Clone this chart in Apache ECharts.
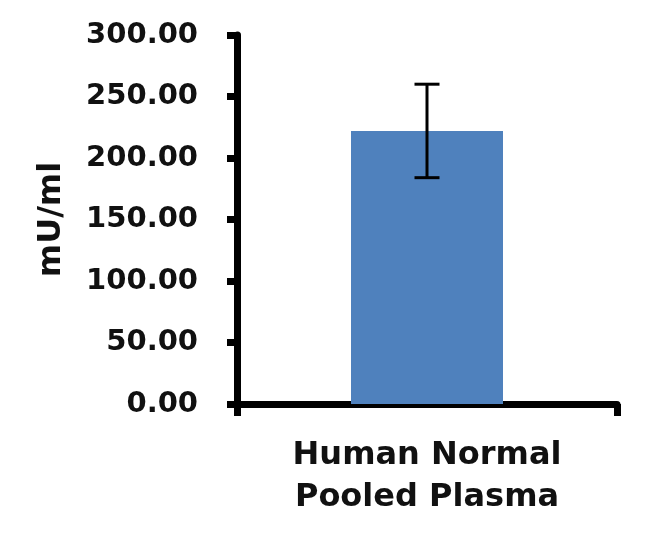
<!DOCTYPE html>
<html><head><meta charset="utf-8">
<script src="https://cdn.jsdelivr.net/npm/echarts@6/dist/echarts.min.js"></script>
<style>html,body{margin:0;padding:0;background:#fff}#c{width:650px;height:537px}</style>
</head><body><div id="c"></div>
<script>
const categories = ['Human Normal\nPooled Plasma'];
const means = [222];
const errors = [38];
const yTicks = [0, 50, 100, 150, 200, 250, 300];

const FONT = 'DejaVu Sans';
const chart = echarts.init(document.getElementById('c'), null, {renderer: 'canvas'});
chart.setOption({
  animation: false,
  grid: {left: 237, right: 33, top: 35, bottom: 133},
  xAxis: {
    type: 'category', data: categories,
    axisLine: {lineStyle: {color: '#000', width: 7}},
    axisTick: {show: true, length: 12, lineStyle: {color: '#000', width: 7}},
    axisLabel: {color: '#111', fontFamily: FONT, fontWeight: 'bold', fontSize: 32, lineHeight: 42, margin: 31}
  },
  yAxis: {
    type: 'value', min: yTicks[0], max: yTicks[yTicks.length - 1], interval: 50,
    name: 'mU/ml', nameLocation: 'middle', nameGap: 169, nameRotate: 90,
    nameTextStyle: {color: '#111', fontFamily: FONT, fontWeight: 'bold', fontSize: 32},
    axisLine: {show: true, lineStyle: {color: '#000', width: 7}},
    axisTick: {show: true, length: 10, lineStyle: {color: '#000', width: 7}},
    splitLine: {show: false},
    axisLabel: {color: '#111', fontFamily: FONT, fontWeight: 'bold', fontSize: 29, margin: 39,
      formatter: v => v.toFixed(2)}
  },
  series: [
    {type: 'bar', data: means, barWidth: '40%', itemStyle: {color: '#4F81BD'}},
    {type: 'custom', data: means.map((m, i) => [i, m - errors[i], m + errors[i]]),
      renderItem: (params, api) => {
        const lo = api.coord([api.value(0), api.value(1)]);
        const hi = api.coord([api.value(0), api.value(2)]);
        const hw = 12.5;
        const st = {stroke: '#000', lineWidth: 3};
        return {type: 'group', children: [
          {type: 'line', shape: {x1: hi[0], y1: hi[1], x2: lo[0], y2: lo[1]}, style: st},
          {type: 'line', shape: {x1: hi[0]-hw, y1: hi[1], x2: hi[0]+hw, y2: hi[1]}, style: st},
          {type: 'line', shape: {x1: lo[0]-hw, y1: lo[1], x2: lo[0]+hw, y2: lo[1]}, style: st}
        ]};
      }, z: 10}
  ]
});
</script></body></html>
